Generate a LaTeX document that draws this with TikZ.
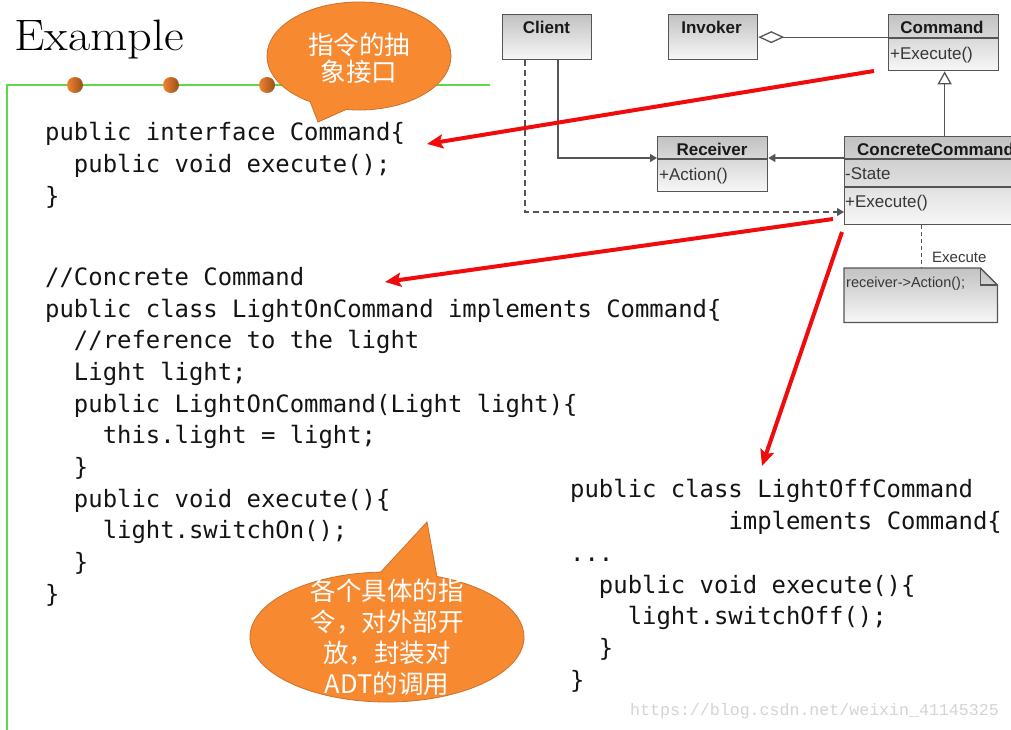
\documentclass[tikz,border=0pt]{standalone}
\usepackage{fontspec}
\usetikzlibrary{arrows.meta,calc,shapes.callouts}
\newfontfamily\codefont{DejaVu Sans Mono}
\newfontfamily\umlfont{Liberation Sans}
\newfontfamily\cjkfont{Noto Sans CJK SC}
\newfontfamily\wmfont{Liberation Mono}
\definecolor{bubblefill}{RGB}{247,137,48}
\definecolor{bubbleedge}{RGB}{205,112,45}
\definecolor{slidegreen}{RGB}{95,215,75}
\definecolor{umledge}{RGB}{85,85,85}
\definecolor{umltext}{RGB}{55,55,55}
\definecolor{redarrow}{RGB}{240,12,12}
\definecolor{dotlight}{RGB}{242,132,48}
\definecolor{dotdark}{RGB}{150,78,28}
\definecolor{codeink}{RGB}{20,20,20}
\tikzset{
  code/.style={font=\codefont\fontsize{23.9}{28}\selectfont, anchor=base west, inner sep=0, text=codeink},
  umlbox/.style={draw=umledge, line width=1.3pt, top color=black!24, bottom color=white!97!black, anchor=north west, inner sep=0},
  umlhead/.style={font=\umlfont\bfseries\fontsize{17}{20}\selectfont, anchor=base, inner sep=0, text=black!90},
  umlmember/.style={font=\umlfont\fontsize{17}{20}\selectfont, anchor=base west, inner sep=0, text=umltext},
  umlline/.style={draw=umledge, line width=1.3pt},
  umltip/.style={-{Triangle[length=7pt,width=8pt]}},
  redarr/.style={draw=redarrow, line width=4pt, -{Stealth[length=16pt,width=14pt,inset=3pt]}},
  cjktext/.style={text=white, align=center, inner sep=0},
  bubbleshape/.style={ellipse callout, fill=bubblefill, draw=bubbleedge, line width=0.8pt, inner sep=0, callout pointer arc=24},
  dotball/.style={circle, minimum size=16pt, inner sep=0, left color=dotlight, right color=dotdark},
}
\newcommand\codeln[5]{\node[code] (#1) at ({#2+#3*14.39},#4) {#5};}
\begin{document}
\begin{tikzpicture}[x=1pt,y=-1pt]
\useasboundingbox (0,0) rectangle (1011,729);
\fill[white] (0,0) rectangle (1011,729);
\clip (0,0) rectangle (1011,729);

% slide frame
\draw[slidegreen, line width=1.3pt] (490,85) -- (7,85) -- (7,735);
\node[dotball] (dot1) at (75,85) {};
\node[dotball] (dot2) at (171,85) {};
\node[dotball] (dot3) at (267,85) {};
\node[font=\fontsize{44}{50}\selectfont, anchor=base west, inner sep=0] (title) at (14,50) {\scalebox{1.1}[1]{Example}};

% left code
\codeln{L1}{45}{0}{140}{public interface Command\{}
\codeln{L2}{45}{2}{172}{public void execute();}
\codeln{L3}{45}{0}{204}{\}}
\codeln{L4}{45}{0}{285}{//Concrete Command}
\codeln{L5}{45}{0}{317}{public class LightOnCommand implements Command\{}
\codeln{L6}{45}{2}{348}{//reference to the light}
\codeln{L7}{45}{2}{380}{Light light;}
\codeln{L8}{45}{2}{412}{public LightOnCommand(Light light)\{}
\codeln{L9}{45}{4}{443}{this.light = light;}
\codeln{L10}{45}{2}{475}{\}}
\codeln{L11}{45}{2}{507}{public void execute()\{}
\codeln{L12}{45}{4}{538}{light.switchOn();}
\codeln{L13}{45}{2}{570}{\}}
\codeln{L14}{45}{0}{602}{\}}

% right code
\codeln{R1}{570}{0}{497}{public class LightOffCommand}
\codeln{R2}{570}{11}{529}{implements Command\{}
\codeln{R3}{570}{0}{561}{...}
\codeln{R4}{570}{2}{593}{public void execute()\{}
\codeln{R5}{570}{4}{624}{light.switchOff();}
\codeln{R6}{570}{2}{656}{\}}
\codeln{R7}{570}{0}{688}{\}}

% UML boxes
\node[umlbox, minimum width=89, minimum height=45] (client) at (502,14) {};
\node[umlbox, minimum width=89, minimum height=45] (invoker) at (668,14) {};
\node[umlbox, minimum width=110, minimum height=56] (command) at (888,14) {};
\node[umlbox, minimum width=110, minimum height=55] (receiver) at (657,136) {};
\node[umlbox, minimum width=200, minimum height=88] (cc) at (844,136) {};
\node[minimum width=153, minimum height=54, anchor=north west, inner sep=0] (note) at (844,268) {};

\draw[umlline] ($(command.north west)+(0,24)$) -- ($(command.north east)+(0,24)$);
\draw[umlline] ($(receiver.north west)+(0,23)$) -- ($(receiver.north east)+(0,23)$);
\draw[umlline] ($(cc.north west)+(0,23)$) -- ($(cc.north east)+(0,23)$);
\draw[umlline] ($(cc.north west)+(0,51)$) -- ($(cc.north east)+(0,51)$);

\path[umlline, top color=black!24, bottom color=white!97!black]
  (note.north west) -- ($(note.north east)+(-17,0)$) -- ($(note.north east)+(0,17)$)
  -- (note.south east) -- (note.south west) -- cycle;
\draw[umlline] ($(note.north east)+(-17,0)$) |- ($(note.north east)+(0,17)$);

% UML texts
\node[umlhead] (clientT) at (546.5,33) {Client};
\node[umlhead] (invokerT) at (711.5,33) {Invoker};
\node[umlhead] (commandT) at (942,33) {Command};
\node[umlmember] (commandM) at (890,59) {+Execute()};
\node[umlhead] (receiverT) at (712,155) {Receiver};
\node[umlmember] (receiverM) at (659,180) {+Action()};
\node[umlhead, anchor=base west] (ccT) at (857,155) {ConcreteCommand};
\node[umlmember] (ccS) at (845,179) {-State};
\node[umlmember] (ccM) at (845,207) {+Execute()};
\node[font=\umlfont\fontsize{14.5}{16}\selectfont, anchor=base west, inner sep=0, text=umltext] (noteT) at (846,287) {receiver->Action();};
\node[font=\umlfont\fontsize{15}{17}\selectfont, anchor=base west, inner sep=0, text=umltext] (execL) at (932,262) {Execute};

% UML connectors
\draw[umlline, {Diamond[fill=white,length=26pt,width=12pt]}-] (invoker.east) -- (invoker.east -| command.west);
\draw[umlline, -{Triangle[fill=white,length=13pt,width=14pt]}] (cc.north) -- (cc.north |- command.south);
\coordinate (cl1) at ($(client.south west)+(56,0)$);
\coordinate (cl2) at ($(client.south west)+(23,0)$);
\coordinate (rcvin) at ($(receiver.north west)+(0,22)$);
\coordinate (rcvout) at ($(receiver.north east)+(0,22)$);
\coordinate (ccout) at ($(cc.north west)+(0,22)$);
\coordinate (ccin) at ($(cc.north west)+(0,76)$);
\coordinate (ccnote) at ($(cc.south west)+(77,0)$);
\draw[umlline, umltip] (cl1) |- (rcvin);
\draw[umlline, umltip] (ccout) -- (rcvout);
\draw[umlline, umltip, dash pattern=on 6pt off 4pt] (cl2) |- (ccin);
\draw[umlline, line width=1pt, dash pattern=on 4pt off 3pt] (ccnote) -- (ccnote |- note.north);

% red arrows
\coordinate (r1s) at (874,71);
\coordinate (r1e) at (427,144);
\coordinate (r2s) at (833,219);
\coordinate (r2e) at (385,282);
\coordinate (r3s) at (842,232);
\coordinate (r3e) at (762,466);
\draw[redarr] (r1s) -- (r1e);
\draw[redarr] (r2s) -- (r2e);
\draw[redarr] (r3s) -- (r3e);

% bubbles
\node[bubbleshape, minimum width=184, minimum height=108, callout absolute pointer={(318,122)}] (b1) at (359,56) {};
\node[cjktext, font=\cjkfont\fontsize{25.5}{27}\selectfont] (b1t) at (359,58) {指令的抽\\象接口};
\node[bubbleshape, minimum width=274, minimum height=130, callout absolute pointer={(427,522)}] (b2) at (387,637) {};
\node[cjktext, font=\cjkfont\fontsize{25.5}{31}\selectfont] (b2t) at (387,637) {各个具体的指\\令，对外部开\\放，封装对\\ADT的调用};

% watermark
\node[font=\wmfont\fontsize{16.6}{18}\selectfont, text=black!17, anchor=base west, inner sep=0] (wm) at (630,715) {https://blog.csdn.net/weixin\_41145325};
\end{tikzpicture}
\end{document}
